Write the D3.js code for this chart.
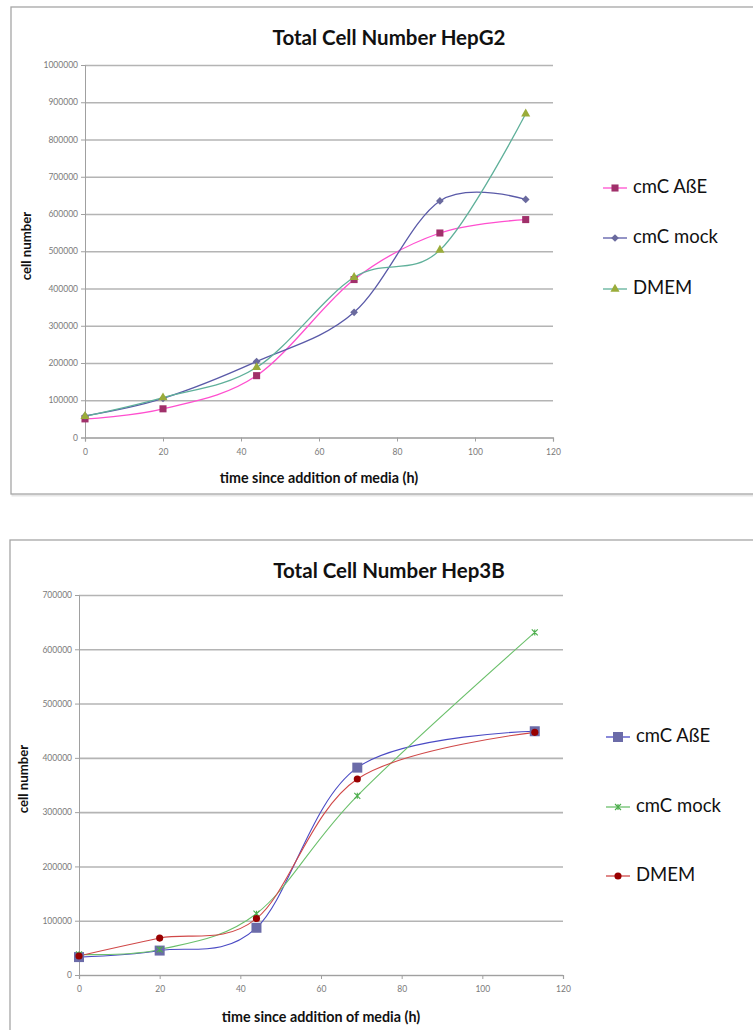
<!DOCTYPE html>
<html>
<head>
<meta charset="utf-8">
<script src="https://cdn.jsdelivr.net/npm/d3@7"></script>
<style>
  html, body { margin: 0; padding: 0; background: #fff; }
  svg { display: block; }
  text { font-family: Lato, "Open Sans", sans-serif; }
</style>
</head>
<body>
<svg id="fig" width="753" height="1030"></svg>
<script>
// ---- HepG2 measurements ----
const hepg2Times = [0, 20, 44, 69, 91, 113];
const hepg2AbE   = [50000, 77000, 166000, 424000, 549000, 585000];
const hepg2Mock  = [58000, 105000, 204000, 336000, 635000, 639000];
const hepg2Dmem  = [57000, 107000, 188000, 430000, 503000, 869000];

// ---- Hep3B measurements ----
const hep3bTimes = [0, 20, 44, 69, 113];
const hep3bAbE   = [33000, 45000, 87000, 382000, 449000];
const hep3bMock  = [38000, 47000, 113000, 330000, 631000];
const hep3bDmem  = [35000, 68000, 104000, 361000, 447000];

const seriesNames = ["cmC AßE", "cmC mock", "DMEM"];
const xTicks = [0, 20, 40, 60, 80, 100, 120];
const hepg2YTicks = d3.range(0, 1000001, 100000);
const hep3bYTicks = d3.range(0, 700001, 100000);

const svg = d3.select("#fig");

// Excel-like "star" marker: an X crossed with a vertical bar
function starPath(s) {
  const h = s / 2;
  return `M${-h},${-h}L${h},${h}M${-h},${h}L${h},${-h}M0,${-h}L0,${h}`;
}

function drawMarker(g, kind, color) {
  if (kind === "star") {
    g.append("path").attr("d", starPath(6)).attr("stroke", color)
      .attr("stroke-width", 1.1).attr("fill", "none");
    return;
  }
  const map = {
    square: [d3.symbolSquare, 0],
    diamond: [d3.symbolSquare, 45],
    triangle: [d3.symbolTriangle, 0],
    circle: [d3.symbolCircle, 0]
  };
  const [type, rot] = map[kind.type];
  g.append("path")
    .attr("d", d3.symbol().type(type).size(kind.size)())
    .attr("transform", `rotate(${rot})`)
    .attr("fill", color);
}

function drawChart(cfg) {
  const root = svg.append("g");

  // outer frame with a faint shadow
  root.append("rect")
    .attr("x", cfg.frame[0] + 1.5).attr("y", cfg.frame[1] + 1.5)
    .attr("width", cfg.frame[2]).attr("height", cfg.frame[3])
    .attr("fill", "none").attr("stroke", "#e6e6e6").attr("stroke-width", 2);
  root.append("rect")
    .attr("x", cfg.frame[0]).attr("y", cfg.frame[1])
    .attr("width", cfg.frame[2]).attr("height", cfg.frame[3])
    .attr("fill", "#fff").attr("stroke", "#a6a6a6").attr("stroke-width", 1.3);

  const x = d3.scaleLinear().domain([0, 120]).range([cfg.left, cfg.right]);
  const y = d3.scaleLinear().domain([0, cfg.yMax]).range([cfg.bottom, cfg.top]);

  // horizontal gridlines
  root.append("g")
    .attr("transform", `translate(${cfg.left},0)`)
    .call(d3.axisLeft(y).tickValues(cfg.yTicks).tickSize(-(cfg.right - cfg.left)).tickFormat(""))
    .call(g => g.select(".domain").remove())
    .call(g => g.selectAll("line").attr("stroke", "#b4b4b4").attr("stroke-width", 1.6));

  // y axis
  root.append("g")
    .attr("transform", `translate(${cfg.left},0)`)
    .call(d3.axisLeft(y).tickValues(cfg.yTicks).tickSize(4).tickPadding(3).tickFormat(d3.format("d")))
    .call(g => g.select(".domain").attr("stroke", "#a0a0a0").attr("stroke-width", 1))
    .call(g => g.selectAll(".tick line").attr("stroke", "#a0a0a0"))
    .call(g => g.selectAll("text").attr("fill", "#7a7a7a").attr("font-size", 8.5)
      .attr("font-family", "Lato, sans-serif"));

  // x axis
  root.append("g")
    .attr("transform", `translate(0,${cfg.bottom})`)
    .call(d3.axisBottom(x).tickValues(xTicks).tickSize(4).tickPadding(7).tickFormat(d3.format("d")))
    .call(g => g.select(".domain").attr("stroke", "#a0a0a0").attr("stroke-width", 1.2))
    .call(g => g.selectAll(".tick line").attr("stroke", "#a0a0a0"))
    .call(g => g.selectAll("text").attr("fill", "#7a7a7a").attr("font-size", 8.5)
      .attr("font-family", "Lato, sans-serif"));

  // titles
  root.append("text")
    .attr("x", cfg.titleX).attr("y", cfg.titleY)
    .attr("text-anchor", "middle").attr("dominant-baseline", "middle")
    .attr("font-weight", "bold").attr("font-size", 20.5).attr("fill", "#111")
    .text(cfg.title);
  root.append("text")
    .attr("x", (cfg.left + cfg.right) / 2).attr("y", cfg.xTitleY)
    .attr("text-anchor", "middle").attr("dominant-baseline", "middle")
    .attr("font-weight", "bold").attr("font-size", 14.3).attr("fill", "#111")
    .text("time since addition of media (h)");
  root.append("text")
    .attr("transform", `translate(${cfg.yTitleX},${cfg.yTitleY}) rotate(-90)`)
    .attr("text-anchor", "middle").attr("dominant-baseline", "middle")
    .attr("font-weight", "bold").attr("font-size", 13.2).attr("fill", "#111")
    .text("cell number");

  // smoothed series
  const line = d3.line()
    .x(d => x(d[0])).y(d => y(d[1]))
    .curve(d3.curveCardinal.tension(0));

  cfg.series.forEach(s => {
    const pts = cfg.times.map((t, i) => [t, s.values[i]]);
    root.append("path")
      .datum(pts)
      .attr("d", line)
      .attr("fill", "none")
      .attr("stroke", s.line)
      .attr("stroke-width", s.width);
  });
  cfg.series.forEach(s => {
    cfg.times.forEach((t, i) => {
      const g = root.append("g").attr("transform", `translate(${x(t)},${y(s.values[i])})`);
      drawMarker(g, s.marker, s.markerColor);
    });
  });

  // legend
  cfg.series.forEach((s, i) => {
    const ly = cfg.legendY[i];
    const g = root.append("g").attr("transform", `translate(0,${ly})`);
    g.append("line")
      .attr("x1", cfg.legendX).attr("x2", cfg.legendX + 24)
      .attr("y1", 0).attr("y2", 0)
      .attr("stroke", s.line).attr("stroke-width", 1.3);
    const m = g.append("g").attr("transform", `translate(${cfg.legendX + 12},0)`);
    drawMarker(m, s.marker, s.markerColor);
    g.append("text")
      .attr("x", cfg.legendX + 30).attr("y", 0)
      .attr("dominant-baseline", "middle")
      .attr("font-size", 18.5).attr("fill", "#111")
      .text(seriesNames[i]);
  });
}

drawChart({
  frame: [11, 7, 760, 487],
  left: 85, right: 553, top: 65, bottom: 437.5,
  yMax: 1000000, yTicks: hepg2YTicks,
  title: "Total Cell Number HepG2", titleX: 389, titleY: 40,
  xTitleY: 479, yTitleX: 28, yTitleY: 246,
  times: hepg2Times,
  legendX: 603, legendY: [188, 238, 289],
  series: [
    { values: hepg2AbE, line: "#ff4fcf", width: 1.3, marker: { type: "square", size: 50 }, markerColor: "#a0306a" },
    { values: hepg2Mock, line: "#5a5aa8", width: 1.3, marker: { type: "diamond", size: 30 }, markerColor: "#6a6a9e" },
    { values: hepg2Dmem, line: "#5fb09a", width: 1.3, marker: { type: "triangle", size: 36 }, markerColor: "#9aac3a" }
  ]
});

drawChart({
  frame: [10, 540, 760, 520],
  left: 79, right: 563, top: 595, bottom: 975,
  yMax: 700000, yTicks: hep3bYTicks,
  title: "Total Cell Number Hep3B", titleX: 389, titleY: 573,
  xTitleY: 1018, yTitleX: 25, yTitleY: 779,
  times: hep3bTimes,
  legendX: 606, legendY: [737, 807, 876],
  series: [
    { values: hep3bAbE, line: "#4a4ac4", width: 1.1, marker: { type: "square", size: 100 }, markerColor: "#6b6ba8" },
    { values: hep3bMock, line: "#6cc06c", width: 1.1, marker: "star", markerColor: "#4cae4c" },
    { values: hep3bDmem, line: "#d04848", width: 1.1, marker: { type: "circle", size: 40 }, markerColor: "#990000" }
  ]
});
</script>
</body>
</html>
